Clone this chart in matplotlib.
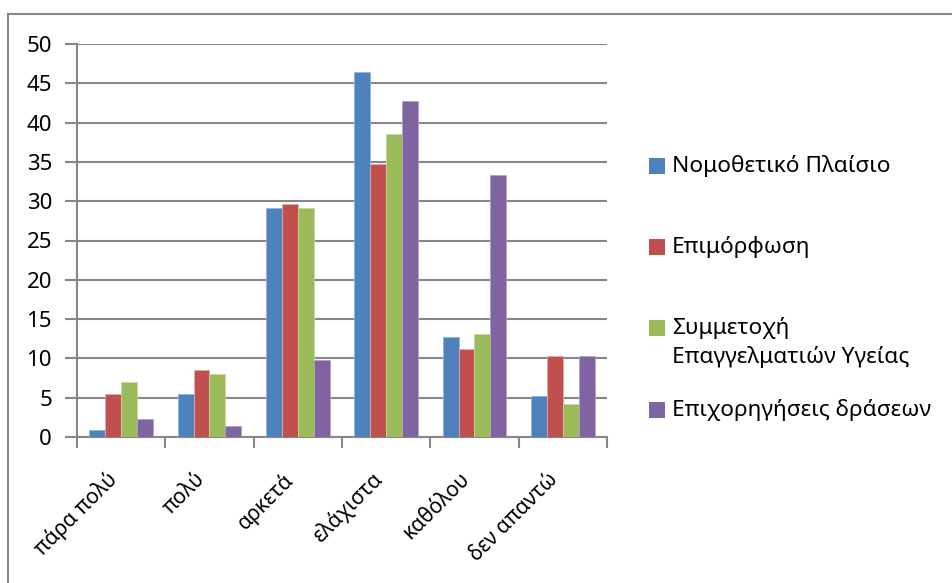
import numpy as np
import matplotlib.pyplot as plt
import matplotlib.transforms as mtransforms
from matplotlib.lines import Line2D
from matplotlib.patches import Rectangle

plt.rcParams['font.family'] = ['Noto Sans', 'DejaVu Sans']

# data
categories = ["πάρα πολύ", "πολύ", "αρκετά", "ελάχιστα", "καθόλου", "δεν απαντώ"]
series_names = ["Νομοθετικό Πλαίσιο", "Επιμόρφωση",
                "Συμμετοχή\nΕπαγγελματιών Υγείας", "Επιχορηγήσεις δράσεων"]
nomothetiko = [0.85, 5.5, 29.1, 46.5, 12.7, 5.2]
epimorfosi = [5.5, 8.5, 29.6, 34.7, 11.25, 10.3]
symmetoxi = [7.0, 8.0, 29.1, 38.5, 13.1, 4.2]
epixorigiseis = [2.25, 1.35, 9.85, 42.7, 33.3, 10.3]
colors = ["#4F81BD", "#C0504D", "#9BBB59", "#8064A2"]
edges = ["#8DB3E2", "#E6A9A7", "#C3D69B", "#B2A1C7"]

values = [nomothetiko, epimorfosi, symmetoxi, epixorigiseis]
grey = "#878787"

fig = plt.figure(figsize=(9.53, 5.83), dpi=100)
ax = fig.add_axes([77 / 953, 1 - 437 / 583, 530 / 953, 393 / 583])

x = np.arange(len(categories))
w = 0.18
for i, vals in enumerate(values):
    ax.bar(x + (i - 1.5) * w, vals, width=w, color=colors[i],
           edgecolor=edges[i], linewidth=0.6, zorder=3)

ax.set_xlim(-0.5, len(categories) - 0.5)
ax.set_ylim(0, 50)
ax.set_yticks(np.arange(0, 51, 5))
ax.yaxis.grid(True, color=grey, linewidth=1.5, zorder=0)
ax.tick_params(axis='y', length=9, width=1.5, color=grey, pad=9,
               labelsize=16)

# category boundaries carry the ticks, labels sit at the centres
ax.set_xticks(np.arange(-0.5, len(categories)), minor=True)
ax.set_xticks(x)
ax.set_xticklabels(categories, rotation=45, ha='right', va='top',
                   rotation_mode='anchor', fontsize=15)
ax.tick_params(axis='x', which='major', length=0, pad=23)
ax.tick_params(axis='x', which='minor', length=8, width=1.5, color=grey)
shift = mtransforms.ScaledTranslation(-0.15, 0, fig.dpi_scale_trans)
for lab in ax.get_xticklabels():
    lab.set_transform(lab.get_transform() + shift)

for s in ['top', 'right']:
    ax.spines[s].set_visible(False)
for s in ['left', 'bottom']:
    ax.spines[s].set_color(grey)
    ax.spines[s].set_linewidth(1.5)

# legend drawn by hand to follow the Excel layout
leg_y = [166, 247, 328, 410]
for i, name in enumerate(series_names):
    y = 1 - leg_y[i] / 583
    fig.add_artist(Rectangle((649 / 953, y - 8 / 583), 16 / 953, 16 / 583,
                             transform=fig.transFigure, facecolor=colors[i],
                             edgecolor='none'))
    fig.text(672 / 953, y + 11 / 583, name, fontsize=16.3, va='top', ha='left',
             linespacing=1.42)

# chart frame
fig.add_artist(Line2D([8 / 953, 8 / 953], [1 - 14 / 583, 0], color=grey,
                      linewidth=1.5, transform=fig.transFigure))
fig.add_artist(Line2D([8 / 953, 1], [1 - 14 / 583, 1 - 14 / 583], color=grey,
                      linewidth=1.5, transform=fig.transFigure))

fig.savefig("out.png", dpi=100)
